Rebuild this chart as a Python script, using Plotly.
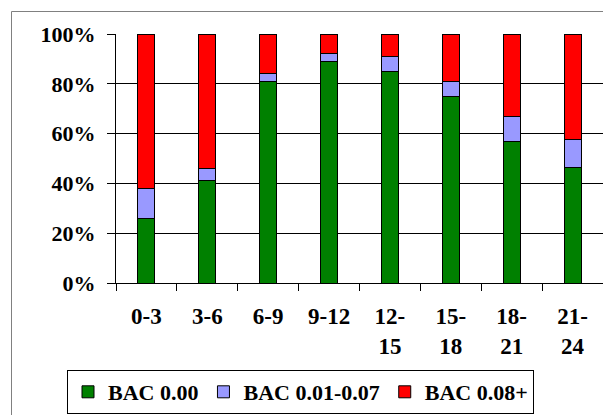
import plotly.graph_objects as go

categories = ["0-3", "3-6", "6-9", "9-12", "12-<br>15", "15-<br>18", "18-<br>21", "21-<br>24"]
bac_000 = [26, 41, 81, 89, 85, 75, 57, 46.5]
bac_001_007 = [12, 5, 3, 3, 6, 6, 10, 11]
bac_008 = [62, 54, 16, 8, 9, 19, 33, 42.5]
y_ticks = [0, 20, 40, 60, 80, 100]
y_tick_labels = [f"{v}%" for v in y_ticks]

W, H = 603, 415
L, R, T, B = 116, 0, 34, 132
pw, ph = W - L - R, H - T - B

font_family = "Liberation Serif, Times New Roman, serif"

fig = go.Figure()
for name, vals, color in [
    ("BAC 0.00", bac_000, "#008000"),
    ("BAC 0.01-0.07", bac_001_007, "#9999FF"),
    ("BAC 0.08+", bac_008, "#FF0000"),
]:
    fig.add_trace(go.Bar(
        x=categories, y=vals, name=name,
        marker=dict(color=color, line=dict(color="black", width=1)),
    ))

fig.update_layout(
    width=W, height=H,
    margin=dict(l=L, r=R, t=T, b=B, pad=0),
    barmode="stack",
    bargap=0.72,
    paper_bgcolor="white",
    plot_bgcolor="white",
    font=dict(family=font_family, color="black", size=22, weight="bold"),
    showlegend=True,
    legend=dict(
        orientation="h",
        x=(67 - L) / pw, y=(T + ph - 370) / ph,
        xanchor="left", yanchor="top",
        bordercolor="black", borderwidth=1, bgcolor="white",
        font=dict(family=font_family, size=22, color="black", weight="bold"),
        traceorder="normal",
    ),
    xaxis=dict(
        showline=True, linecolor="black", linewidth=1,
        ticks="outside", ticklen=7, tickcolor="black", tickson="boundaries",
        tickfont=dict(family=font_family, size=23, weight="bold"),
        ticklabelstandoff=12,
        showgrid=False,
    ),
    yaxis=dict(
        range=[0, 100], tickvals=y_ticks, ticktext=y_tick_labels,
        showline=True, linecolor="black", linewidth=1,
        ticks="outside", ticklen=8, tickcolor="black",
        ticklabelstandoff=7,
        showgrid=True, gridcolor="black", gridwidth=1,
        tickfont=dict(family=font_family, size=22, weight="bold"),
        zeroline=False,
    ),
    shapes=[dict(
        type="rect", xref="paper", yref="paper",
        x0=(11.5 - L) / pw, x1=1.2,
        y0=-1.0, y1=(T + ph - 11.5) / ph,
        line=dict(color="#808080", width=1), fillcolor="rgba(0,0,0,0)",
        layer="below",
    )],
)

fig.write_html(
    "out.html",
    config={"displayModeBar": False},
    post_script="document.body.style.margin='0';document.body.style.overflow='hidden';",
)
